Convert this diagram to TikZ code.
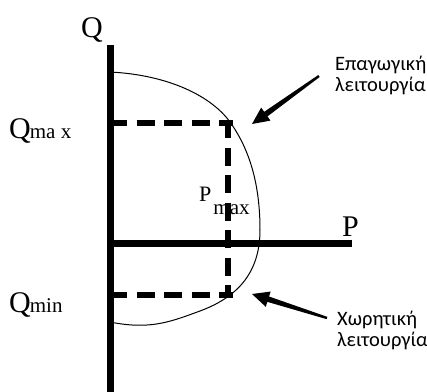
\documentclass[tikz,border=0pt]{standalone}
\usepackage{fontspec}
\setmainfont{Liberation Serif}
\newfontfamily\grk{Carlito}
\usetikzlibrary{calc}
\tikzset{
  axisline/.style={line width=7bp},
  guide/.style={line width=6bp, dash pattern=on 18bp off 9.5bp},
  curveline/.style={line width=1bp},
  biglabel/.style={inner sep=0pt, font=\fontsize{30bp}{32bp}\selectfont},
  greeklabel/.style={inner sep=0pt, align=left, anchor=base west, font=\grk\fontsize{20.5bp}{21bp}\selectfont},
  fatarrow/.style={fill=black},
}
\newcommand{\fatarrowdraw}[2]{%
  \fill[fatarrow]
    ($(#1)!1.2bp!90:(#2)$) --
    ($($(#2)!17bp!(#1)$)!2.8bp!90:(#2)$) --
    ($($(#2)!17bp!(#1)$)!8bp!90:(#2)$) --
    (#2) --
    ($($(#2)!17bp!(#1)$)!8bp!-90:(#2)$) --
    ($($(#2)!17bp!(#1)$)!2.8bp!-90:(#2)$) --
    ($(#1)!1.2bp!-90:(#2)$) -- cycle;}
\begin{document}
\begin{tikzpicture}[x=1bp,y=-1bp]
\useasboundingbox[fill=white] (0,0) rectangle (427,392);

% curve
\draw[curveline] (110,72) .. controls (170,75) and (212,97) .. (230,122)
  .. controls (250,150) and (260,185) .. (260,230)
  .. controls (260,275) and (235,298) .. (200,311)
  .. controls (170,322) and (150,330) .. (110,322);

% labels
\node[biglabel, anchor=base] (qlab) at (92,37) {Q};
\node[biglabel, anchor=base west] (plab) at (342,236) {P};
\node[inner sep=0pt, anchor=base west] (qmax) at (9,138)
  {\fontsize{30bp}{32bp}\selectfont Q\kern-1bp\fontsize{21bp}{22bp}\selectfont ma x};
\node[inner sep=0pt, anchor=base west] (qmin) at (9,312)
  {\fontsize{30bp}{32bp}\selectfont Q\kern-1bp\fontsize{21bp}{22bp}\selectfont min};
\node[inner sep=0pt, anchor=base west] (pmax) at (199,201)
  {\fontsize{22bp}{24bp}\selectfont P\kern2bp\raisebox{-13bp}{\fontsize{21bp}{20bp}\selectfont max}};

% guides
\coordinate (qmaxA) at (109,123);
\coordinate (qmaxB) at (233,123);
\coordinate (vtop) at (228,120);
\coordinate (vbot) at (228,298);
\coordinate (qminA) at (109,295);
\coordinate (qminB) at (233,295);
\draw[guide] (qmaxA) -- (qmaxB);
\draw[guide, line width=5.5bp] (vtop) -- (vbot);
\draw[guide] (qminA) -- (qminB);

% axes
\coordinate (origin) at (110,243);
\coordinate (qtop) at (110,45);
\coordinate (qbot) at (110,392);
\coordinate (pend) at (352,243);
\draw[axisline] (qtop) -- (qbot);
\draw[axisline] (origin) -- (pend);

% greek labels (base = baseline of last line)
\node[greeklabel] (ind) at (335,91) {Επαγωγική\\λειτουργία};
\node[greeklabel] (cap) at (337,346) {Χωρητική\\λειτουργία};

% arrows
\coordinate (t1) at (319,76);
\coordinate (h1) at (252,124);
\coordinate (t2) at (327,318);
\coordinate (h2) at (252,294);
\fatarrowdraw{t1}{h1}
\fatarrowdraw{t2}{h2}
\end{tikzpicture}
\end{document}
